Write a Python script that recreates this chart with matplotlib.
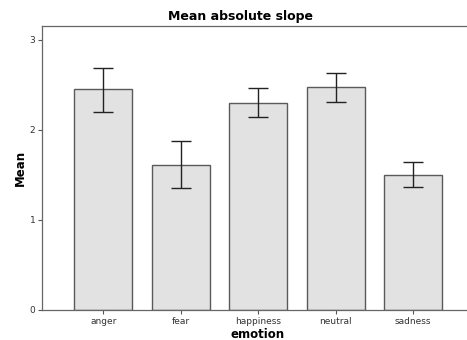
import matplotlib
matplotlib.use("Agg")
import matplotlib.pyplot as plt
import numpy as np

# values
emotions = ["anger", "fear", "happiness", "neutral", "sadness"]
means = [2.45, 1.61, 2.30, 2.47, 1.50]
ci_low = [2.20, 1.35, 2.14, 2.31, 1.36]
ci_high = [2.68, 1.87, 2.46, 2.63, 1.64]

W, H = 467, 340
fig = plt.figure(figsize=(W / 100, H / 100), dpi=100)
ax = fig.add_axes([42.3 / W, 1 - 309.7 / H, (474 - 42.3) / W, (309.7 - 25.7) / H])

x = np.arange(len(emotions))
m = np.array(means)
yerr = np.vstack([m - np.array(ci_low), np.array(ci_high) - m])

ax.bar(x, m, width=0.75, color="#e2e2e2", edgecolor="#5a5a5a", linewidth=1.0, zorder=2)
ax.errorbar(x, m, yerr=yerr, fmt="none", ecolor="#222222", elinewidth=1.0,
            capsize=7.2, capthick=1.0, zorder=3)

ax.set_xlim(-0.787, 4.787)
ax.set_ylim(0, 3.155)
ax.set_xticks(x)
ax.set_xticklabels(emotions, fontsize=6.5, color="#333333")
ax.set_yticks([0, 1, 2, 3])
ax.set_yticklabels(["0", "1", "2", "3"], fontsize=6.5, color="#333333")
ax.tick_params(axis="both", direction="out", length=3, width=0.8, color="#555555", pad=2)

for s in ax.spines.values():
    s.set_color("#666666")
    s.set_linewidth(0.9)

# axis titles placed by hand to match the reference crop
fig.text(257.7 / W, 1 - 338.5 / H, "emotion", ha="center", va="baseline",
         fontsize=8.5, fontweight="bold")
fig.text(20 / W, 1 - 167.7 / H, "Mean", ha="center", va="center", rotation=90,
         fontsize=8.5, fontweight="bold")
fig.text(240.7 / W, 1 - 16.7 / H, "Mean absolute slope", ha="center", va="center",
         fontsize=9, fontweight="bold")

fig.savefig("out.png", dpi=100)
